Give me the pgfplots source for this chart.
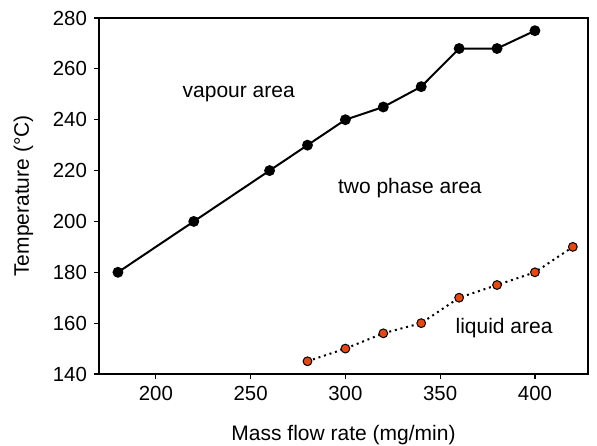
\documentclass[border=0pt]{standalone}
\usepackage{fontspec}
\setmainfont{Liberation Sans}
\usepackage{pgfplots}
\pgfplotsset{compat=1.18}
\definecolor{liq}{RGB}{232,72,16}
\begin{document}
\begin{tikzpicture}
\begin{axis}[
  at={(0,0)}, anchor=south west,
  scale only axis,
  width=244.5pt, height=178pt,
  xmin=170, xmax=428, ymin=140, ymax=280,
  xtick={200,250,300,350,400},
  ytick={140,160,180,200,220,240,260,280},
  tick align=outside,
  xtick pos=bottom, ytick pos=left,
  major tick length=2.5pt,
  tick style={black, line width=0.6pt},
  axis line style={line width=0.6pt},
  ticklabel style={font=\fontsize{10.2}{12}\selectfont},
  /pgf/number format/assume math mode=true,
  /pgf/number format/1000 sep={},
  xlabel={Mass flow rate (mg/min)},
  ylabel={Temperature (°C)},
  label style={font=\fontsize{10.5}{12}\selectfont},
  xlabel style={yshift=-5.5pt},
  ylabel style={yshift=3pt},
]
\addplot[black, line width=1pt, mark=*, mark size=2.2pt] coordinates {
(180,180) (220,200) (260,220) (280,230) (300,240) (320,245) (340,253) (360,268) (380,268) (400,275)};
\addplot[black, line width=1pt, dash pattern=on 1pt off 1.9pt, mark=*, mark size=2.2pt,
  mark options={solid, fill=liq, draw=black, line width=0.5pt}] coordinates {
(280,145) (300,150) (320,156) (340,160) (360,170) (380,175) (400,180) (420,190)};
\node[font=\fontsize{10.5}{12}\selectfont] at (axis cs:243.7,250) {vapour area};
\node[font=\fontsize{10.5}{12}\selectfont] at (axis cs:334,213) {two phase area};
\node[font=\fontsize{10.5}{12}\selectfont] at (axis cs:383.7,158.2) {liquid area};
\end{axis}
\pgfresetboundingbox
\path (-49.5pt,-35.5pt) rectangle (249pt,187pt);
\end{tikzpicture}
\end{document}
